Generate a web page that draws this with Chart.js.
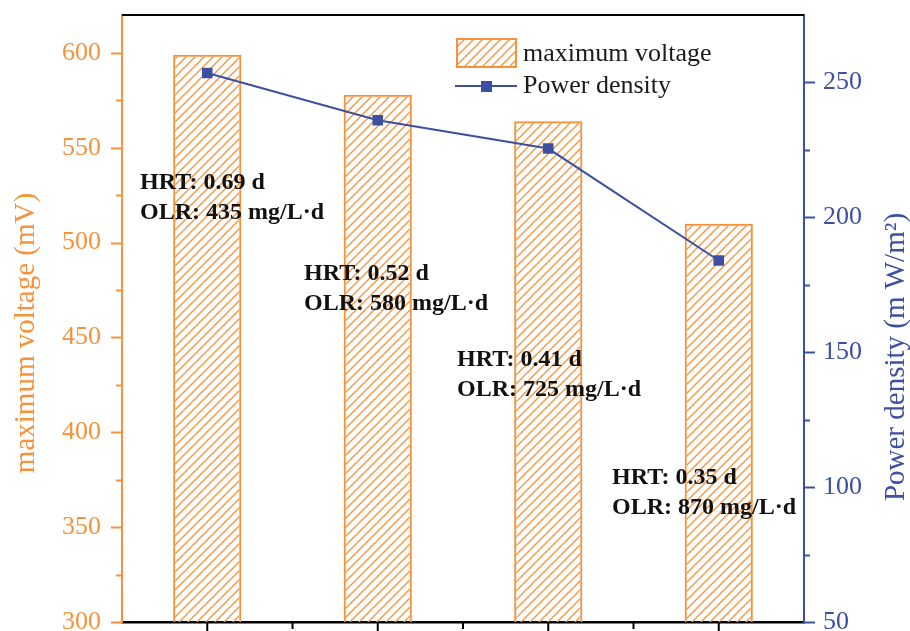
<!DOCTYPE html>
<html>
<head>
<meta charset="utf-8">
<script src="https://cdn.jsdelivr.net/npm/chart.js@4/dist/chart.umd.min.js"></script>
<style>
  body { margin: 0; background: #fff; }
  #wrap { width: 910px; height: 631px; }
</style>
</head>
<body>
<div id="wrap"><canvas id="chart" width="910" height="631"></canvas></div>
<script>
// data
const categories = ['0.69 d', '0.52 d', '0.41 d', '0.35 d'];
const maxVoltage = [599, 578, 564, 510];      // mV, left axis
const powerDensity = [253.5, 236, 225.5, 184]; // mW/m2, right axis
const voltageTicks = [300, 350, 400, 450, 500, 550, 600];
const powerTicks = [50, 100, 150, 200, 250];
const hrtLabels = ['HRT: 0.69 d', 'HRT: 0.52 d', 'HRT: 0.41 d', 'HRT: 0.35 d'];
const olrLabels = ['OLR: 435 mg/L\u00b7d', 'OLR: 580 mg/L\u00b7d', 'OLR: 725 mg/L\u00b7d', 'OLR: 870 mg/L\u00b7d'];

// where the annotation blocks sit (pixels)
const notePos = [[140, 189], [304, 280], [457, 366], [612, 484]];

const ORANGE = '#F7923C';
const BLUE = '#3C50A2';
const SERIF = '"Liberation Serif", "Times New Roman", serif';

function makeHatch(color) {
    const s = 9;
    const c = document.createElement('canvas');
    c.width = s; c.height = s;
    const g = c.getContext('2d');
    g.strokeStyle = color;
    g.lineWidth = 1.3;
    g.beginPath();
    g.moveTo(0, s); g.lineTo(s, 0);
    g.moveTo(-s / 2, s / 2); g.lineTo(s / 2, -s / 2);
    g.moveTo(s / 2, s * 1.5); g.lineTo(s * 1.5, s / 2);
    g.stroke();
    return g.createPattern(c, 'repeat');
}

const hatch = makeHatch(ORANGE);

// axis ticks (major + minor), frame, titles, legend, notes
const decorations = {
    id: 'decorations',
    afterDraw(chart) {
        const ctx = chart.ctx;
        const area = chart.chartArea;
        const yL = chart.scales.y;
        const yR = chart.scales.y1;
        const x = chart.scales.x;
        ctx.save();

        // top frame
        ctx.strokeStyle = '#000';
        ctx.lineWidth = 2;
        ctx.beginPath();
        ctx.moveTo(area.left, area.top);
        ctx.lineTo(area.right, area.top);
        ctx.stroke();

        // left ticks
        ctx.strokeStyle = ORANGE;
        ctx.lineWidth = 2;
        for (let v = voltageTicks[0]; v <= voltageTicks[voltageTicks.length - 1]; v += 25) {
            const py = Math.round(yL.getPixelForValue(v)) + 0.5;
            const len = voltageTicks.includes(v) ? 11 : 6;
            ctx.beginPath();
            ctx.moveTo(area.left - len, py);
            ctx.lineTo(area.left, py);
            ctx.stroke();
        }
        // right ticks
        ctx.strokeStyle = BLUE;
        for (let v = powerTicks[0]; v <= powerTicks[powerTicks.length - 1]; v += 25) {
            const py = Math.round(yR.getPixelForValue(v)) + 0.5;
            const len = powerTicks.includes(v) ? 11 : 6;
            ctx.beginPath();
            ctx.moveTo(area.right, py);
            ctx.lineTo(area.right + len, py);
            ctx.stroke();
        }
        // bottom ticks
        ctx.strokeStyle = '#000';
        categories.forEach((c, i) => {
            const px = x.getPixelForValue(i);
            ctx.beginPath();
            ctx.moveTo(px, area.bottom);
            ctx.lineTo(px, area.bottom + 11);
            ctx.stroke();
            if (i > 0) {
                const bx = (px + x.getPixelForValue(i - 1)) / 2;
                ctx.beginPath();
                ctx.moveTo(bx, area.bottom);
                ctx.lineTo(bx, area.bottom + 7);
                ctx.stroke();
            }
        });

        // axis titles
        ctx.font = '29px ' + SERIF;
        ctx.textAlign = 'center';
        ctx.textBaseline = 'alphabetic';
        ctx.fillStyle = ORANGE;
        ctx.save();
        ctx.translate(34, 333);
        ctx.rotate(-Math.PI / 2);
        ctx.fillText('maximum voltage (mV)', 0, 0);
        ctx.restore();
        ctx.fillStyle = BLUE;
        ctx.save();
        ctx.translate(904, 357);
        ctx.rotate(-Math.PI / 2);
        ctx.fillText('Power density (m W/m\u00b2)', 0, 0);
        ctx.restore();

        // legend
        ctx.fillStyle = hatch;
        ctx.fillRect(457, 39, 59, 28);
        ctx.strokeStyle = ORANGE;
        ctx.lineWidth = 2;
        ctx.strokeRect(457, 39, 59, 28);
        ctx.strokeStyle = BLUE;
        ctx.beginPath();
        ctx.moveTo(455, 86);
        ctx.lineTo(517, 86);
        ctx.stroke();
        ctx.fillStyle = BLUE;
        ctx.fillRect(481, 81, 11, 11);
        ctx.fillStyle = '#1a1a1a';
        ctx.font = '26px ' + SERIF;
        ctx.textAlign = 'left';
        ctx.fillText(chart.data.datasets[1].label, 523, 61);
        ctx.fillText(chart.data.datasets[0].label, 523, 93);

        // HRT / OLR notes
        ctx.fillStyle = '#111';
        ctx.font = 'bold 24px ' + SERIF;
        notePos.forEach((p, i) => {
            ctx.fillText(hrtLabels[i], p[0], p[1]);
            ctx.fillText(olrLabels[i], p[0], p[1] + 30);
        });

        ctx.restore();
    }
};

function noPad(scale) {
    scale.paddingTop = 0;
    scale.paddingBottom = 0;
}

new Chart(document.getElementById('chart').getContext('2d'), {
    type: 'bar',
    data: {
        labels: categories,
        datasets: [{
            type: 'line',
            label: 'Power density',
            data: powerDensity,
            yAxisID: 'y1',
            borderColor: BLUE,
            backgroundColor: BLUE,
            borderWidth: 2,
            pointStyle: 'rect',
            pointRadius: 7.5,
            pointBorderWidth: 0,
            tension: 0,
            order: 1
        }, {
            label: 'maximum voltage',
            data: maxVoltage,
            yAxisID: 'y',
            backgroundColor: hatch,
            borderColor: ORANGE,
            borderWidth: 2,
            borderSkipped: false,
            categoryPercentage: 1,
            barPercentage: 0.4,
            order: 2
        }]
    },
    options: {
        responsive: false,
        animation: false,
        layout: { padding: { top: 15, left: 0, right: 0, bottom: 0 } },
        plugins: {
            legend: { display: false },
            tooltip: { enabled: false }
        },
        scales: {
            x: {
                offset: true,
                grid: { display: false, drawTicks: false },
                ticks: { display: false },
                border: { color: '#000', width: 2.5 },
                afterFit(scale) { scale.height = 9; scale.paddingLeft = 0; scale.paddingRight = 0; }
            },
            y: {
                position: 'left',
                min: 300,
                max: 620,
                grid: { display: false, drawTicks: false },
                border: { color: ORANGE, width: 2 },
                ticks: {
                    stepSize: 50,
                    padding: 21,
                    color: ORANGE,
                    font: { family: SERIF, size: 26 },
                    callback: v => voltageTicks.includes(v) ? v : ''
                },
                afterFit(scale) { scale.width = 122; noPad(scale); }
            },
            y1: {
                position: 'right',
                min: 50,
                max: 275,
                grid: { display: false, drawTicks: false },
                border: { color: BLUE, width: 2 },
                ticks: {
                    stepSize: 50,
                    padding: 19,
                    color: BLUE,
                    font: { family: SERIF, size: 26 },
                    callback: v => powerTicks.includes(v) ? v : ''
                },
                afterFit(scale) { scale.width = 106; noPad(scale); }
            }
        }
    },
    plugins: [decorations]
});
</script>
</body>
</html>
